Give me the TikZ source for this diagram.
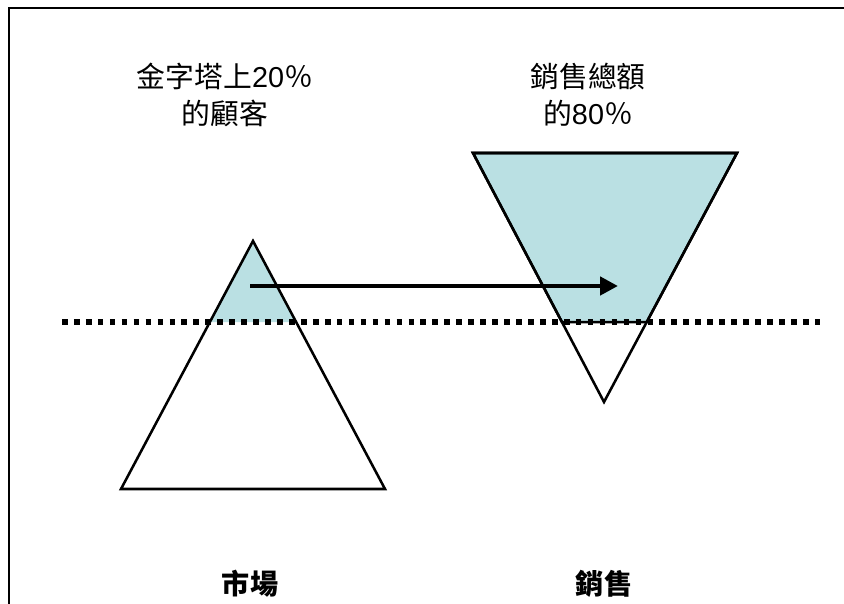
\documentclass[tikz,border=0pt]{standalone}
\usepackage{fontspec}
\setmainfont{Liberation Sans}
\newfontfamily\cjk{Noto Sans CJK TC}
\usetikzlibrary{arrows.meta, positioning, calc}

\definecolor{paleteal}{RGB}{186,224,227}

\begin{document}
\begin{tikzpicture}[align=center, line join=miter,
    pyrline/.style={draw, line width=1.8pt},
    toptext/.style={font=\fontsize{20.5}{26}\selectfont, inner sep=0pt},
    basetext/.style={font=\cjk\bfseries\fontsize{20}{24}\selectfont, inner sep=0pt}]
    \useasboundingbox (0,0) rectangle (21.1,15.1);
    % frame
    \draw[line width=1.2pt] (0.225,0) -- (0.225,14.9) -- (21.1,14.9);

    % market pyramid
    \coordinate (apex) at (6.325,9.075);
    \coordinate (baseL) at (3.025,2.875);
    \coordinate (baseR) at (9.625,2.875);
    \fill[paleteal] (apex) -- ($(apex)!0.327!(baseL)$) -- ($(apex)!0.327!(baseR)$) -- cycle;
    \draw[pyrline] (apex) -- (baseL) -- (baseR) -- cycle;

    % sales funnel
    \coordinate (topL) at (11.825,11.275);
    \coordinate (topR) at (18.425,11.275);
    \coordinate (tip) at (15.1,5.05);
    \filldraw[pyrline, fill=paleteal] (topL) -- (topR) -- ($(topR)!0.679!(tip)$) -- ($(topL)!0.679!(tip)$) -- cycle;
    \draw[pyrline] (topL) -- (topR) -- (tip) -- cycle;

    % cut line
    \coordinate (cutL) at (1.55,7.05);
    \coordinate (cutR) at (20.65,7.05);
    \draw[line width=4pt, dash pattern=on 4pt off 4.5pt] (cutL) -- (cutR);

    % arrow
    \coordinate (from) at (6.25,7.95);
    \coordinate (to) at (15.45,7.95);
    \draw[line width=3.2pt, -{Triangle[length=0.45cm, width=0.45cm]}] (from) -- (to);

    % texts
    \node[toptext] (topcust) at (5.625,12.725) {{\cjk 金字塔上}20{\cjk ％}\\{\cjk 的顧客}};
    \node[toptext] (topsales) at (14.7,12.725) {{\cjk 銷售總額}\\{\cjk 的}80{\cjk ％}};
    \node[basetext] (market) at (6.25,0.5) {市場};
    \node[basetext] (sales) at (15.1,0.5) {銷售};
\end{tikzpicture}
\end{document}
